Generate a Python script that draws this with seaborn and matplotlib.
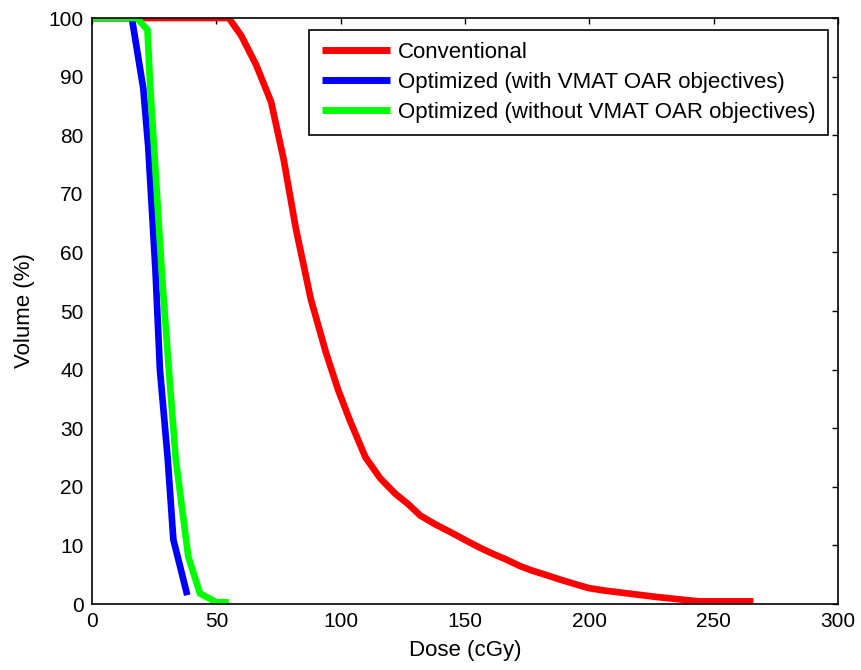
import matplotlib
matplotlib.use("Agg")
import matplotlib.pyplot as plt
import seaborn as sns
import pandas as pd

sns.set_theme(style="white")
plt.rcParams['font.family'] = ['Liberation Sans', 'DejaVu Sans']
plt.rcParams['text.color'] = 'black'
plt.rcParams['axes.labelcolor'] = 'black'

series_names = ["Conventional",
                "Optimized (with VMAT OAR objectives)",
                "Optimized (without VMAT OAR objectives)"]

conv_dose = [0, 55, 60, 66, 72, 77, 82, 88, 94, 99, 104, 110, 116, 122, 127, 132,
             138, 144, 151, 156, 161, 166, 172, 177, 183, 188, 195, 200, 206, 227, 244, 266]
conv_vol = [100, 100, 97, 92, 85.7, 76, 64, 52, 43, 36.5, 31, 25, 21.4, 18.8, 17.1, 15.1,
            13.6, 12.3, 10.7, 9.6, 8.6, 7.7, 6.5, 5.7, 4.9, 4.2, 3.3, 2.7, 2.3, 1.2, 0.45, 0.45]

with_dose = [0, 16, 20.6, 22.6, 25.5, 27.3, 30.4, 32.7, 38.3]
with_vol = [100, 100, 88, 78, 57, 40, 25, 11, 1.5]

without_dose = [0, 18, 22.3, 23.3, 28.3, 30.9, 33.6, 38.7, 43.4, 50, 55]
without_vol = [100, 100, 98, 89, 55, 40, 25, 8.1, 1.8, 0.3, 0.3]

colors = ["#ff0000", "#0000ff", "#00ff00"]

frames = []
for name, d, v in zip(series_names,
                      [conv_dose, with_dose, without_dose],
                      [conv_vol, with_vol, without_vol]):
    frames.append(pd.DataFrame({"Dose": d, "Volume": v, "Series": name}))
df = pd.concat(frames, ignore_index=True)

fig = plt.figure(figsize=(8.61, 6.70), dpi=100)
ax = fig.add_axes([0.1069, 0.0985, 0.8664, 0.8746])

sns.lineplot(data=df, x="Dose", y="Volume", hue="Series", hue_order=series_names,
             palette=colors, sort=False, estimator=None, units="Series",
             linewidth=4.8, ax=ax, legend=True)
for ln in ax.get_lines():
    ln.set_solid_capstyle("butt")
    ln.set_solid_joinstyle("miter")

ax.set_xlim(0, 300)
ax.set_ylim(0, 100)
ax.set_xticks([0, 50, 100, 150, 200, 250, 300])
ax.set_yticks(range(0, 101, 10))
ax.set_xlabel("Dose (cGy)", fontsize=16, labelpad=6)
ax.set_ylabel("Volume (%)", fontsize=16, labelpad=10)
ax.tick_params(direction="in", length=4, width=1, top=True, right=True,
               labelsize=15, colors="black", pad=6)
for s in ax.spines.values():
    s.set_visible(True)
    s.set_color("black")
    s.set_linewidth(1.2)

leg = ax.legend(loc="upper right", bbox_to_anchor=(0.9866, 0.9795),
                borderaxespad=0, fontsize=16, frameon=True, fancybox=False,
                framealpha=1, edgecolor="black", handlelength=3.1,
                labelspacing=0.4, borderpad=0.55, handletextpad=0.35)
leg.get_frame().set_linewidth(1.2)
for h in leg.get_lines():
    h.set_linewidth(5)
    h.set_solid_capstyle("butt")

fig.savefig("out.png", dpi=100)
